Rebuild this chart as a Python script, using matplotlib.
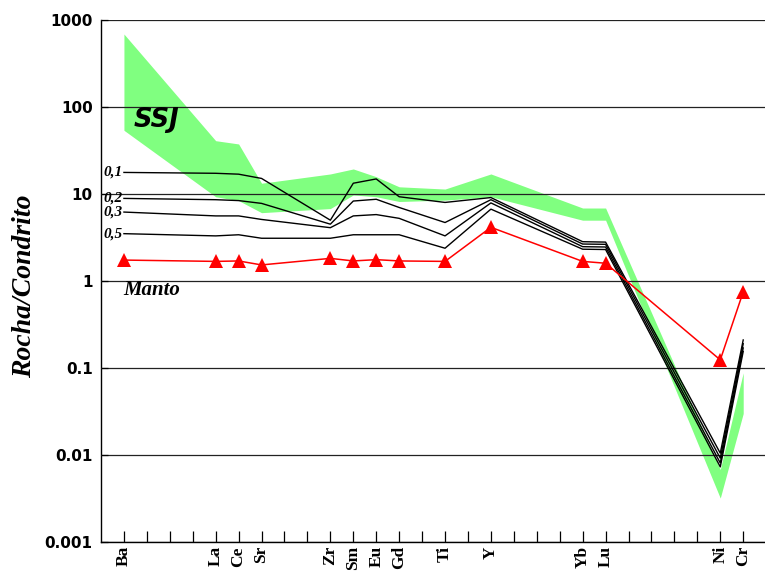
import matplotlib.pyplot as plt
from matplotlib.ticker import NullLocator

# Elementos (diagrama multielementar normalizado ao condrito)
elementos = ['Ba', 'La', 'Ce', 'Sr', 'Zr', 'Sm', 'Eu', 'Gd', 'Ti', 'Y', 'Yb', 'Lu', 'Ni', 'Cr']
posicoes = [0, 4, 5, 6, 9, 10, 11, 12, 14, 16, 20, 21, 26, 27]

# Manto (triangulos vermelhos)
manto = [1.74, 1.68, 1.70, 1.53, 1.82, 1.70, 1.76, 1.70, 1.68, 4.14, 1.68, 1.60, 0.124, 0.75]

# Curvas de fusao parcial
rotulos_fusao = ['0,1', '0,2', '0,3', '0,5']
fusao_01 = [17.7, 17.3, 16.9, 15.1, 5.0, 13.3, 14.9, 9.3, 8.0, 9.1, 2.83, 2.80, 0.0105, 0.21]
fusao_02 = [8.9, 8.6, 8.4, 7.8, 4.5, 8.3, 8.7, 7.0, 4.7, 8.6, 2.66, 2.64, 0.0092, 0.19]
fusao_03 = [6.2, 5.6, 5.6, 5.1, 4.1, 5.6, 5.8, 5.25, 3.3, 7.9, 2.48, 2.46, 0.0081, 0.17]
fusao_05 = [3.5, 3.3, 3.4, 3.1, 3.1, 3.4, 3.4, 3.4, 2.38, 6.7, 2.32, 2.30, 0.0073, 0.155]

# Campo SSJ (limites superior e inferior)
ssj_sup = [690, 41, 37.6, 13.3, 17.0, 19.4, 15.8, 12.1, 11.4, 17.0, 6.9, 6.9, 0.0068, 0.088]
ssj_inf = [54, 9.3, 8.4, 6.1, 6.8, 9.75, 9.3, 8.2, 8.5, 9.3, 5.0, 5.0, 0.0032, 0.030]

dec_valores = [1000, 100, 10, 1, 0.1, 0.01, 0.001]
dec_rotulos = ['1000', '100', '10', '1', '0.1', '0.01', '0.001']

serif = 'Liberation Serif'

fig = plt.figure(figsize=(7.65, 5.71), dpi=100)
ax = fig.add_axes([101 / 765, 29 / 571, 664 / 765, 522 / 571])

ax.fill_between(posicoes, ssj_inf, ssj_sup, color='#80ff80', lw=0, zorder=1)

for serie, rot in zip([fusao_01, fusao_02, fusao_03, fusao_05], rotulos_fusao):
    ax.plot(posicoes, serie, color='black', lw=1.0, zorder=3)
    ax.text(-0.08, serie[0], rot, ha='right', va='center', fontsize=11,
            fontfamily=serif, fontweight='bold', fontstyle='italic', zorder=4)

ax.plot(posicoes, manto, color='red', lw=1.1, marker='^', markersize=10,
        markeredgewidth=0, zorder=4)

ax.text(0.44, 71, 'SSJ', ha='left', va='center', fontsize=18.5,
        fontweight='bold', fontstyle='italic', fontfamily='DejaVu Sans')
ax.text(-0.05, 0.79, 'Manto', ha='left', va='center', fontsize=15,
        fontfamily=serif, fontweight='bold', fontstyle='italic')

ax.set_yscale('log')
ax.set_ylim(0.001, 1000)
ax.set_xlim(-1, 27.95)

ax.set_yticks(dec_valores)
ax.set_yticklabels(dec_rotulos, fontsize=11, fontweight='bold', fontfamily='DejaVu Sans')
ax.yaxis.set_minor_locator(NullLocator())
ax.yaxis.grid(True, color='#222222', lw=0.9)
ax.set_axisbelow(False)

ax.set_xticks(posicoes)
ax.set_xticklabels(elementos, rotation=90, fontsize=12.5, fontweight='bold', fontfamily=serif)
ax.set_xticks(range(0, 28), minor=True)
ax.tick_params(axis='x', which='both', direction='in', length=8, width=0.9, pad=3)
ax.tick_params(axis='y', which='major', direction='in', length=5, width=0.9, pad=6)

for lado in ['top', 'right']:
    ax.spines[lado].set_visible(False)
for lado in ['left', 'bottom']:
    ax.spines[lado].set_linewidth(1.0)

fig.text(25 / 765, 1 - 286 / 571, 'Rocha/Condrito', rotation=90, ha='center', va='center',
         fontsize=20, fontfamily=serif, fontweight='bold', fontstyle='italic')

fig.savefig('out.png', dpi=100)
